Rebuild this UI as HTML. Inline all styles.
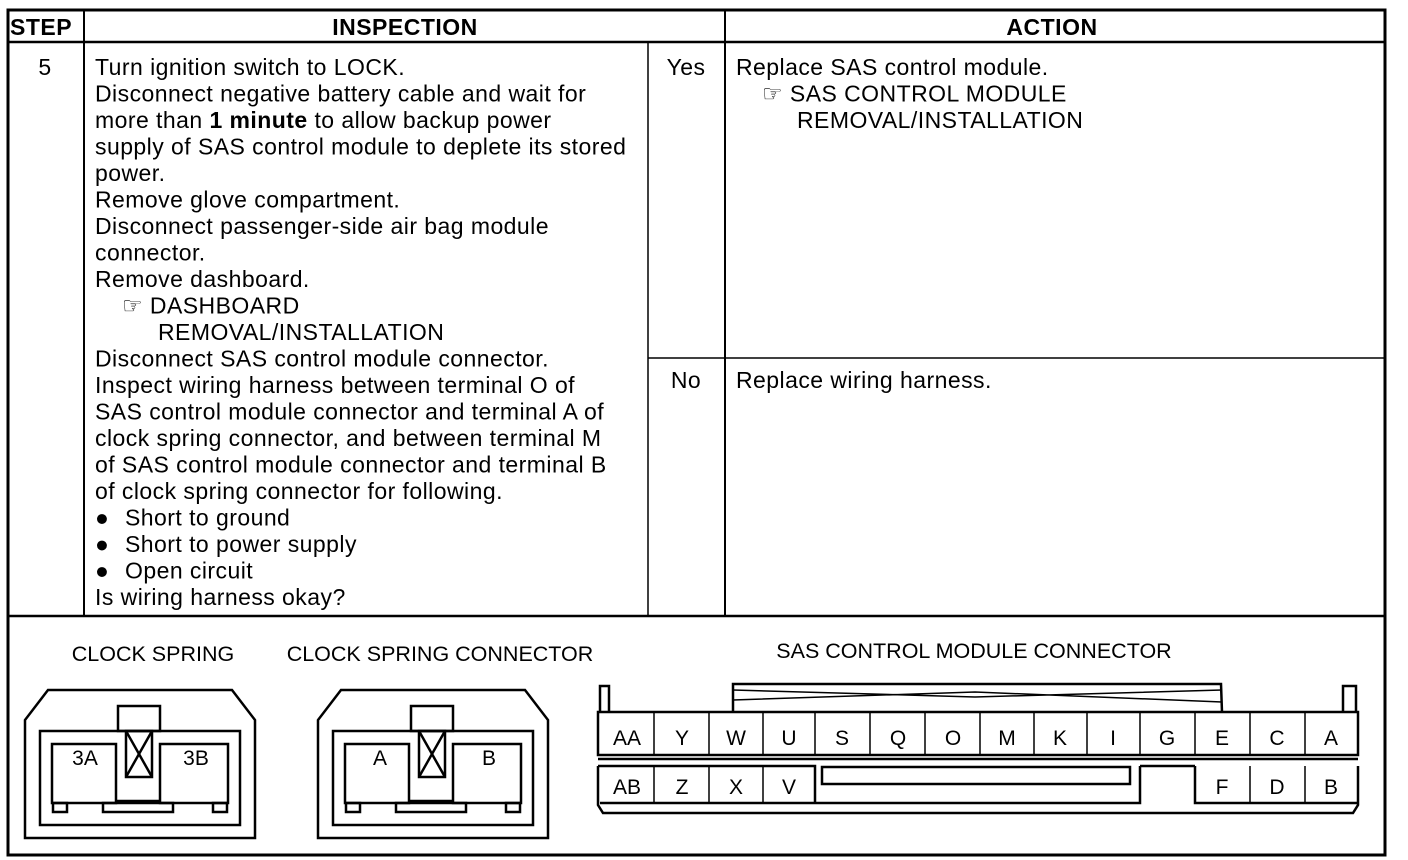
<!DOCTYPE html>
<html><head><meta charset="utf-8"><style>
html,body{margin:0;padding:0;background:#fff}
svg{display:block}
text{font-family:"Liberation Sans",Arial,sans-serif;fill:#000}
.t{font-size:23px;letter-spacing:0.45px}
.h{font-size:23px;font-weight:bold;letter-spacing:0.5px}
.s{font-size:21.5px}
.c{font-size:21px}
</style></head><body>
<svg width="1408" height="860" viewBox="0 0 1408 860" xmlns="http://www.w3.org/2000/svg">
<g stroke="#000" fill="none">
<rect x="8" y="10" width="1377" height="845" stroke-width="3"/>
<line x1="8" y1="42" x2="1385" y2="42" stroke-width="2.5"/>
<line x1="8" y1="616" x2="1385" y2="616" stroke-width="2.5"/>
<line x1="84" y1="10" x2="84" y2="616" stroke-width="2"/>
<line x1="725" y1="10" x2="725" y2="616" stroke-width="2"/>
<line x1="648" y1="42" x2="648" y2="616" stroke-width="1.5"/>
<line x1="648" y1="358" x2="1385" y2="358" stroke-width="1.5"/>
</g>
<text class="h" x="10" y="35" letter-spacing="-0.5">STEP</text>
<text class="h" x="405" y="35" text-anchor="middle">INSPECTION</text>
<text class="h" x="1052" y="35" text-anchor="middle">ACTION</text>
<text class="t" x="45" y="75" text-anchor="middle">5</text>
<g class="t">
<text x="95" y="75">Turn ignition switch to LOCK.</text>
<text x="95" y="101.5">Disconnect negative battery cable and wait for</text>
<text x="95" y="128">more than <tspan font-weight="bold">1 minute</tspan> to allow backup power</text>
<text x="95" y="154.5">supply of SAS control module to deplete its stored</text>
<text x="95" y="181">power.</text>
<text x="95" y="207.5">Remove glove compartment.</text>
<text x="95" y="234">Disconnect passenger-side air bag module</text>
<text x="95" y="260.5">connector.</text>
<text x="95" y="287">Remove dashboard.</text>
<text x="122" y="313.5">☞ DASHBOARD</text>
<text x="158" y="340">REMOVAL/INSTALLATION</text>
<text x="95" y="366.5">Disconnect SAS control module connector.</text>
<text x="95" y="393">Inspect wiring harness between terminal O of</text>
<text x="95" y="419.5">SAS control module connector and terminal A of</text>
<text x="95" y="446">clock spring connector, and between terminal M</text>
<text x="95" y="472.5">of SAS control module connector and terminal B</text>
<text x="95" y="499">of clock spring connector for following.</text>
<text x="95" y="525.5">●</text><text x="125" y="525.5">Short to ground</text>
<text x="95" y="552">●</text><text x="125" y="552">Short to power supply</text>
<text x="95" y="578.5">●</text><text x="125" y="578.5">Open circuit</text>
<text x="95" y="605">Is wiring harness okay?</text>
<text x="686" y="75" text-anchor="middle">Yes</text>
<text x="686" y="388" text-anchor="middle">No</text>
<text x="736" y="75">Replace SAS control module.</text>
<text x="762" y="101.5">☞ SAS CONTROL MODULE</text>
<text x="797" y="128">REMOVAL/INSTALLATION</text>
<text x="736" y="388">Replace wiring harness.</text>
</g>
<g class="s">
<text x="153" y="661" text-anchor="middle">CLOCK SPRING</text>
<text x="440" y="661" text-anchor="middle">CLOCK SPRING CONNECTOR</text>
<text x="974" y="658" text-anchor="middle">SAS CONTROL MODULE CONNECTOR</text>
</g>
<g id="cs" stroke="#000" stroke-width="2.5" fill="none">
<path d="M25 838 L25 720 L48 690 L232 690 L255 720 L255 838 Z"/>
<rect x="40" y="731" width="200" height="94"/>
<rect x="52" y="744" width="64" height="59"/>
<rect x="160" y="744" width="68" height="59"/>
<rect x="118" y="706" width="42" height="25"/>
<rect x="126" y="731" width="26" height="46"/>
<path d="M126 731 L152 777 M152 731 L126 777"/>
<line x1="116" y1="801" x2="160" y2="801"/>
<rect x="53" y="803" width="14" height="9"/>
<rect x="213" y="803" width="14" height="9"/>
<rect x="103" y="803" width="70" height="9"/>
</g>
<use href="#cs" x="293"/>
<g class="c" text-anchor="middle">
<text x="85" y="765">3A</text>
<text x="196" y="765">3B</text>
<text x="380" y="765">A</text>
<text x="489" y="765">B</text>
</g>
<g stroke="#000" stroke-width="2.5" fill="none">
<path d="M600 712 L600 686 L609 686 L609 712"/>
<path d="M1343 712 L1343 686 L1356 686 L1356 712"/>
<path d="M733 712 L733 684 L1221 684 L1222 712"/>
<path d="M733 700 L975 692 L1222 702 M733 690 L975 697 L1222 690" stroke-width="1.5"/>
<rect x="598" y="712" width="760" height="43"/>
<line x1="598" y1="759" x2="1358" y2="759"/>
<path d="M598 766 L598 805 L603 813 L1353 813 L1358 805 L1358 766"/>
<path d="M598 766 L815 766 L815 803 M1195 766 L1195 803 L1358 803 M1140 766 L1140 803 L815 803 M1140 766 L1195 766"/>
<path d="M600 803 L815 803"/>
<rect x="822" y="767" width="308" height="17"/>
<g stroke-width="1.5">
<line x1="654" y1="712" x2="654" y2="755"/><line x1="709" y1="712" x2="709" y2="755"/>
<line x1="763" y1="712" x2="763" y2="755"/><line x1="815" y1="712" x2="815" y2="755"/>
<line x1="870" y1="712" x2="870" y2="755"/><line x1="925" y1="712" x2="925" y2="755"/>
<line x1="980" y1="712" x2="980" y2="755"/><line x1="1034" y1="712" x2="1034" y2="755"/>
<line x1="1087" y1="712" x2="1087" y2="755"/><line x1="1140" y1="712" x2="1140" y2="755"/>
<line x1="1195" y1="712" x2="1195" y2="755"/><line x1="1250" y1="712" x2="1250" y2="755"/>
<line x1="1305" y1="712" x2="1305" y2="755"/>
<line x1="654" y1="766" x2="654" y2="803"/><line x1="709" y1="766" x2="709" y2="803"/>
<line x1="763" y1="766" x2="763" y2="803"/>
<line x1="1250" y1="766" x2="1250" y2="803"/><line x1="1305" y1="766" x2="1305" y2="803"/>
</g>
</g>
<g class="c" text-anchor="middle">
<text x="627" y="745">AA</text><text x="682" y="745">Y</text><text x="736" y="745">W</text>
<text x="789" y="745">U</text><text x="842" y="745">S</text><text x="898" y="745">Q</text>
<text x="953" y="745">O</text><text x="1007" y="745">M</text><text x="1060" y="745">K</text>
<text x="1113" y="745">I</text><text x="1167" y="745">G</text><text x="1222" y="745">E</text>
<text x="1277" y="745">C</text><text x="1331" y="745">A</text>
<text x="627" y="794">AB</text><text x="682" y="794">Z</text><text x="736" y="794">X</text>
<text x="789" y="794">V</text><text x="1222" y="794">F</text><text x="1277" y="794">D</text>
<text x="1331" y="794">B</text>
</g>
</svg>
</body></html>
